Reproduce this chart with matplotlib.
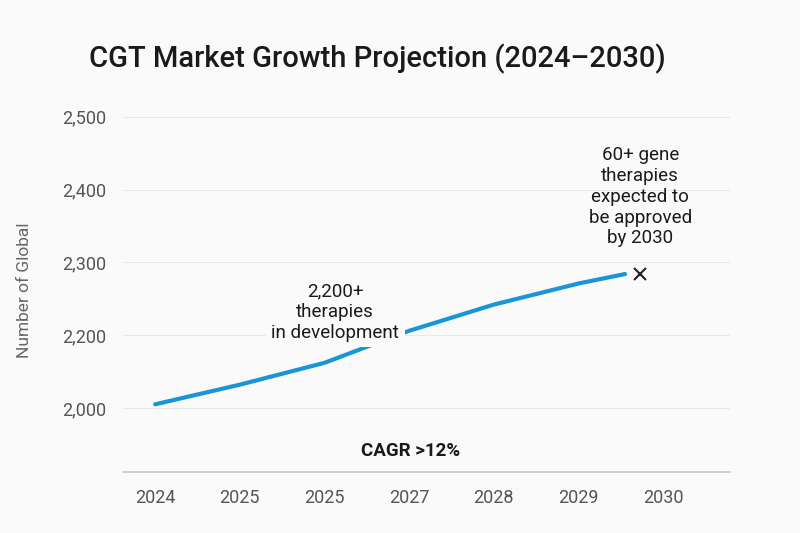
import matplotlib
matplotlib.use("Agg")
import matplotlib.pyplot as plt

# ---- data ----
x_labels = ["2024", "2025", "2025", "2027", "2028", "2029", "2030"]
line_x = [0, 1, 2, 3, 4, 5, 5.55]
line_y = [2105, 2132, 2162, 2206, 2242, 2271, 2284]
ytick_pos = [2100, 2200, 2300, 2400, 2500]
ytick_labels = ["2,000", "2,200", "2,300", "2,400", "2,500"]
marker_point = (5.73, 2284)
title = "CGT Market Growth Projection (2024\u20132030)"
ylabel = "Number of Global"
note_mid = "2,200+\ntherapies\nin development"
note_mid_pos = (2.125, 2232)
note_end = "60+ gene\ntherapies\nexpected to\nbe approved\nby 2030"
note_end_pos = (5.73, 2390)
cagr_text = "CAGR >12%"
cagr_pos = (3.02, 2041)

plt.rcParams['font.family'] = ['Roboto', 'DejaVu Sans']
bg = "#fafafa"

fig = plt.figure(figsize=(8, 5.33), dpi=100, facecolor=bg)
ax = fig.add_axes([123/800, 1-472/533, (730-123)/800, (472-95)/533], facecolor=bg)

ax.plot(line_x, line_y, color="#1a96d8", lw=3, solid_capstyle="round", zorder=2)
ax.plot([marker_point[0]], [marker_point[1]], marker="x", ms=8, mew=1.5,
        color="#222222", linestyle="none", zorder=4)

ax.set_xlim(-0.38, 6.79)
ax.set_ylim(2012, 2530)
ax.set_xticks(range(len(x_labels)))
ax.set_xticklabels(x_labels)
ax.set_yticks(ytick_pos)
ax.set_yticklabels(ytick_labels)
ax.tick_params(axis="both", length=0, labelsize=13, labelcolor="#555555")
ax.tick_params(axis="x", pad=12)
ax.tick_params(axis="y", pad=12)
ax.grid(axis="y", color="#e8e8e8", lw=0.8)
ax.set_axisbelow(True)
for s in ["top", "right", "left"]:
    ax.spines[s].set_visible(False)
ax.spines["bottom"].set_color("#c8c8c8")
ax.spines["bottom"].set_linewidth(1.2)

ax.text(note_mid_pos[0], note_mid_pos[1], note_mid, ha="center", va="center",
        fontsize=13.5, color="#1a1a1a", linespacing=1.2, zorder=3,
        bbox=dict(facecolor=bg, edgecolor="none", pad=4))
ax.text(note_end_pos[0], note_end_pos[1], note_end, ha="center", va="center",
        fontsize=13.5, color="#1a1a1a", linespacing=1.2, zorder=3)
ax.text(cagr_pos[0], cagr_pos[1], cagr_text, ha="center", va="center",
        fontsize=13.5, fontweight="bold", color="#1a1a1a", zorder=3)

fig.text(377/800, 1-59/533, title, ha="center", va="center", fontsize=21,
         fontweight="medium", color="#1a1a1a")
fig.text(25/800, 1-290/533, ylabel, ha="center", va="center", rotation=90,
         fontsize=12.5, color="#666666")

fig.savefig("out.png", dpi=100, facecolor=bg)
